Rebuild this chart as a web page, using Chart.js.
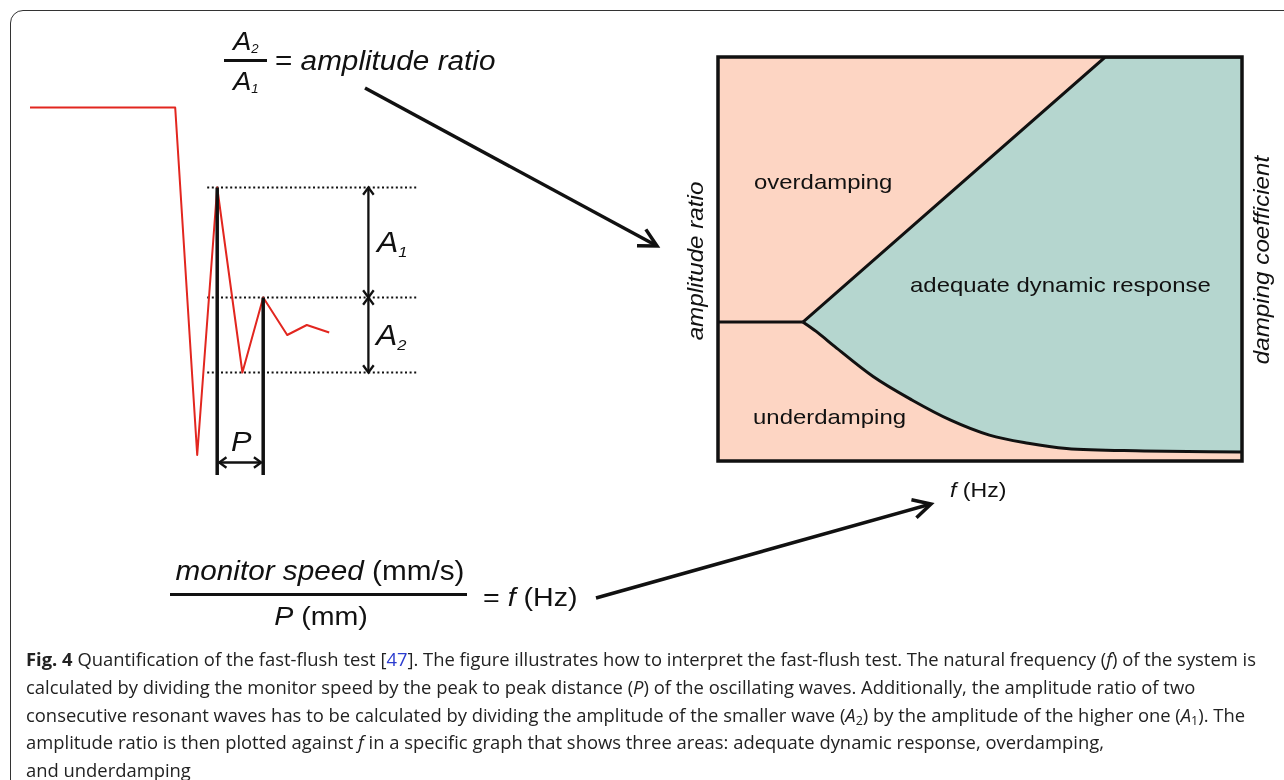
<!DOCTYPE html>
<html><head><meta charset="utf-8">
<script src="https://cdn.jsdelivr.net/npm/chart.js@4.4.1/dist/chart.umd.min.js"></script>
<style>
html,body{margin:0;padding:0;background:#fff;width:1284px;height:780px;overflow:hidden;position:relative;}
#frame{position:absolute;left:10px;top:10px;width:1300px;height:790px;border:1.5px solid #333;border-radius:13px;box-sizing:border-box;}
.t{position:absolute;font-family:"Liberation Sans",Arial,sans-serif;line-height:1;white-space:nowrap;transform-origin:0 0;transform:scaleX(1.1);color:#111;}
.w{transform:scaleX(1.14);}
.sb{font-style:italic;position:relative;}
canvas{position:absolute;}
.bar{position:absolute;background:#111;}
#cap{position:absolute;left:26px;top:645px;font-family:"Open Sans",sans-serif;font-size:18.4px;line-height:27.8px;color:#222;white-space:nowrap;}
#cap sub{font-size:12.5px;line-height:0;vertical-align:-3px;}
#cap .lk{color:#2b3ccf;}
</style></head><body>
<div id="frame"></div>

<canvas id="wave" width="420" height="420" style="left:20px;top:80px"></canvas>
<canvas id="damp" width="544" height="424" style="left:708px;top:47px"></canvas>
<svg id="ov" width="1284" height="780" style="position:absolute;left:0;top:0"></svg>

<!-- top formula -->
<div class="t" style="left:233px;top:28.5px;font-size:25px"><i>A</i><span class="sb" style="font-size:12px;top:3px">2</span></div>
<div class="bar" style="left:224px;top:58.5px;width:43px;height:3px"></div>
<div class="t" style="left:233px;top:68.5px;font-size:25px"><i>A</i><span class="sb" style="font-size:12px;top:3px">1</span></div>
<div class="t" style="left:275px;top:48px;font-size:27px">= <i>amplitude ratio</i></div>

<!-- waveform labels -->
<div class="t" style="left:377px;top:228px;font-size:29px"><i>A</i><span class="sb" style="font-size:15px;top:5px">1</span></div>
<div class="t" style="left:376px;top:321px;font-size:29px"><i>A</i><span class="sb" style="font-size:15px;top:5px">2</span></div>
<div class="t" style="left:231px;top:428px;font-size:28px"><i>P</i></div>

<!-- damping chart labels -->
<div class="t w" style="left:754px;top:170.5px;font-size:21px">overdamping</div>
<div class="t w" style="left:910px;top:274px;font-size:21px">adequate dynamic response</div>
<div class="t w" style="left:753px;top:405.5px;font-size:21px">underdamping</div>
<div style="position:absolute;left:696px;top:261px"><div class="t" style="left:0;top:0;font-size:22px;transform-origin:50% 50%;transform:translate(-50%,-50%) rotate(-90deg) scaleX(1.1)"><i>amplitude ratio</i></div></div>
<div style="position:absolute;left:1261.5px;top:260px"><div class="t" style="left:0;top:0;font-size:22px;transform-origin:50% 50%;transform:translate(-50%,-50%) rotate(-90deg) scaleX(1.1)"><i>damping coefficient</i></div></div>
<div class="t" style="left:950px;top:479px;font-size:21px"><i>f</i> (Hz)</div>

<!-- bottom formula -->
<div style="position:absolute;left:320px;top:558px"><div class="t" style="left:0;top:0;font-size:27px;transform-origin:50% 0;transform:translateX(-50%) scaleX(1.1)"><i>monitor speed</i> (mm/s)</div></div>
<div class="bar" style="left:170px;top:593px;width:297px;height:2.5px"></div>
<div style="position:absolute;left:321px;top:603px"><div class="t" style="left:0;top:0;font-size:26px;transform-origin:50% 0;transform:translateX(-50%) scaleX(1.1)"><i>P</i> (mm)</div></div>
<div class="t" style="left:483px;top:584px;font-size:26px">= <i>f</i> (Hz)</div>

<div id="cap"><b>Fig. 4</b> Quantification of the fast-flush test [<span class="lk">47</span>]. The figure illustrates how to interpret the fast-flush test. The natural frequency (<i>f</i>) of the system is<br>calculated by dividing the monitor speed by the peak to peak distance (<i>P</i>) of the oscillating waves. Additionally, the amplitude ratio of two<br>consecutive resonant waves has to be calculated by dividing the amplitude of the smaller wave (<i>A</i><sub>2</sub>) by the amplitude of the higher one (<i>A</i><sub>1</sub>). The<br>amplitude ratio is then plotted against <i>f</i> in a specific graph that shows three areas: adequate dynamic response, overdamping,<br>and underdamping</div>

<script>
// ---------- Fast-flush trace (time in s, pressure in mmHg) ----------
const traceTime     = [0.025, 0.388, 0.443, 0.493, 0.556, 0.608, 0.668, 0.717, 0.773];
const tracePressure = [157,   157,   18,    125,   51,    81,    66,    70,    67];
const PEAK1 = 3, TROUGH = 4, PEAK2 = 5;          // indices of the measured extremes

// ---------- Damping chart (f in Hz, amplitude ratio) ----------
const sepF        = [0, 16.2];
const sepRatio    = [0.344, 0.344];
const upperF      = [16.2, 73.9, 100];
const upperRatio  = [0.344, 1.0, 1.0];
const lowerF      = [16.2, 19.1, 22.3, 29.6, 37.0, 44.4, 51.8, 59.2, 66.5, 81.3, 100];
const lowerRatio  = [0.344, 0.317, 0.283, 0.209, 0.151, 0.101, 0.064, 0.044, 0.031, 0.025, 0.022];

// annotation placement (in data units of the trace chart)
const refLineT = [0.468, 0.995];
const ampArrowT = 0.871;
const markerBaseP = 10;
const periodArrowP = 15;

const INK = '#111', RED = '#e2261f', SALMON = '#fdd5c3', TEAL = '#b5d6cf';

const pts = (xs, ys) => xs.map((x, i) => ({x, y: ys[i]}));

function chevron(ctx, x, y, ang, len, half) {
  ctx.beginPath();
  ctx.moveTo(x - len * Math.cos(ang - half), y - len * Math.sin(ang - half));
  ctx.lineTo(x, y);
  ctx.lineTo(x - len * Math.cos(ang + half), y - len * Math.sin(ang + half));
  ctx.stroke();
}
function dblArrow(ctx, x1, y1, x2, y2) {
  ctx.beginPath(); ctx.moveTo(x1, y1); ctx.lineTo(x2, y2); ctx.stroke();
  const a = Math.atan2(y2 - y1, x2 - x1);
  chevron(ctx, x2, y2, a, 9, Math.PI / 5);
  chevron(ctx, x1, y1, a + Math.PI, 9, Math.PI / 5);
}

const tracePlugin = {
  id: 'traceArrows',
  afterDatasetsDraw(chart) {
    const {ctx, scales: {x, y}} = chart;
    ctx.save();
    ctx.strokeStyle = INK; ctx.lineWidth = 2.3; ctx.lineJoin = 'miter';
    const ax = x.getPixelForValue(ampArrowT);
    dblArrow(ctx, ax, y.getPixelForValue(tracePressure[PEAK1]), ax, y.getPixelForValue(tracePressure[PEAK2]));
    dblArrow(ctx, ax, y.getPixelForValue(tracePressure[PEAK2]), ax, y.getPixelForValue(tracePressure[TROUGH]));
    const py = y.getPixelForValue(periodArrowP);
    dblArrow(ctx, x.getPixelForValue(traceTime[PEAK1]) + 2, py, x.getPixelForValue(traceTime[PEAK2]) - 2, py);
    ctx.restore();
  }
};

const refLine = lvl => ({data: pts(refLineT, [lvl, lvl]), borderColor: INK, borderWidth: 2, borderDash: [2, 2.6]});
const marker = i => ({data: pts([traceTime[i], traceTime[i]], [tracePressure[i], markerBaseP]), borderColor: INK, borderWidth: 3.5});

new Chart(document.getElementById('wave'), {
  type: 'line',
  data: {datasets: [
    marker(PEAK1),
    marker(PEAK2),
    {data: pts(traceTime, tracePressure), borderColor: RED, borderWidth: 2, borderJoinStyle: 'round'},
    refLine(tracePressure[PEAK1]),
    refLine(tracePressure[PEAK2]),
    refLine(tracePressure[TROUGH])
  ]},
  options: {
    responsive: false, animation: false, events: [],
    layout: {padding: 0},
    plugins: {legend: {display: false}, tooltip: {enabled: false}},
    scales: {x: {type: 'linear', display: false, min: 0, max: 1.05}, y: {type: 'linear', display: false, min: 0, max: 168}},
    elements: {point: {radius: 0}, line: {tension: 0, fill: false}}
  },
  plugins: [tracePlugin]
});

const framePlugin = {
  id: 'frame',
  beforeDatasetsDraw(chart) {
    const {ctx, chartArea: a} = chart;
    ctx.save(); ctx.fillStyle = SALMON; ctx.fillRect(a.left, a.top, a.width, a.height); ctx.restore();
  },
  afterDatasetsDraw(chart) {
    const {ctx, chartArea: a} = chart;
    ctx.save(); ctx.strokeStyle = INK; ctx.lineWidth = 3.5; ctx.strokeRect(a.left, a.top, a.width, a.height); ctx.restore();
  }
};

new Chart(document.getElementById('damp'), {
  type: 'line',
  data: {datasets: [
    {data: pts(sepF, sepRatio), borderColor: INK, borderWidth: 3, fill: false},
    {data: pts(lowerF, lowerRatio), borderColor: INK, borderWidth: 3, fill: 'start', backgroundColor: SALMON, cubicInterpolationMode: 'monotone'},
    {data: pts(upperF, upperRatio), borderColor: INK, borderWidth: 3, fill: 'start', backgroundColor: TEAL}
  ]},
  options: {
    responsive: false, animation: false, events: [],
    layout: {padding: 10},
    plugins: {legend: {display: false}, tooltip: {enabled: false}},
    scales: {x: {type: 'linear', display: false, min: 0, max: 100}, y: {type: 'linear', display: false, min: 0, max: 1}},
    elements: {point: {radius: 0}, line: {tension: 0}}
  },
  plugins: [framePlugin]
});

// long pointer arrows (annotation connectors)
const svg = document.getElementById('ov');
function pointer(x1, y1, x2, y2) {
  const a = Math.atan2(y2 - y1, x2 - x1), L = 20, h = Math.PI / 6.5;
  const p = (ang) => [x2 - L * Math.cos(ang), y2 - L * Math.sin(ang)];
  const [ax, ay] = p(a - h), [bx, by] = p(a + h);
  svg.insertAdjacentHTML('beforeend',
    `<line x1="${x1}" y1="${y1}" x2="${x2 - 2*Math.cos(a)}" y2="${y2 - 2*Math.sin(a)}" stroke="${INK}" stroke-width="3.5"/>` +
    `<polyline points="${ax},${ay} ${x2},${y2} ${bx},${by}" fill="none" stroke="${INK}" stroke-width="3.5" stroke-linejoin="miter"/>`);
}
pointer(365, 88, 657, 246);
pointer(596, 598, 931, 504);
</script>
</body></html>
